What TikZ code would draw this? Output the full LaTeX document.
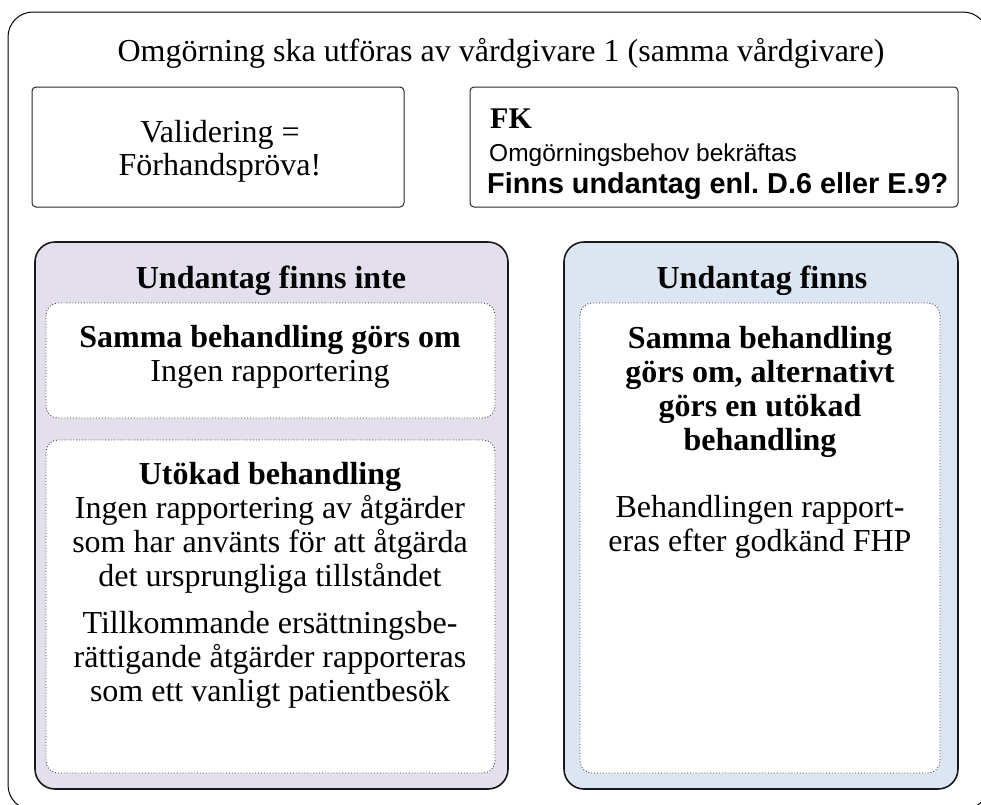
\documentclass[tikz,border=0pt]{standalone}
\usepackage{fontspec}
\setmainfont{Liberation Serif}
\newfontfamily\arialfont{Liberation Sans}
\frenchspacing
\definecolor{lav}{HTML}{E4DFEC}
\definecolor{lblue}{HTML}{DCE6F2}
\tikzset{
  frame/.style={draw=black, line width=1pt, rounded corners=25pt},
  topbox/.style={draw=black!85, line width=1pt, rounded corners=4pt, fill=white},
  panel/.style={draw=black!90, line width=1.6pt, rounded corners=20pt},
  inner/.style={draw=black!75, line width=0.9pt, dotted, rounded corners=12pt, fill=white},
  txt/.style={anchor=base, inner sep=0pt, font=\fontsize{32}{34}\selectfont},
}
\begin{document}
\begin{tikzpicture}[x=1pt,y=-1pt]
\useasboundingbox (0,0) rectangle (981,804);
\draw[frame] (8,12) rectangle (988,810);
\node[txt] (title) at (501,61) {Omgörning ska utföras av vårdgivare 1 (samma vårdgivare)};
% top boxes
\draw[topbox] (32,87) rectangle (404,207);
\node[txt, font=\fontsize{32}{33.5}\selectfont] (valid) at (220,142)
  {\begin{tabular}[t]{@{}c@{}}Validering =\\Förhandspröva!\end{tabular}};
\draw[topbox] (470,87) rectangle (958,207);
\node[anchor=base west, inner sep=0pt, font=\fontsize{30}{34}\selectfont\bfseries] (fk) at (490,128) {FK};
\node[anchor=base west, inner sep=0pt, font=\arialfont\fontsize{24.5}{28}\selectfont] (fk2) at (489,161) {Omgörningsbehov bekräftas};
\node[anchor=base west, inner sep=0pt, font=\arialfont\fontsize{28.8}{32}\selectfont\bfseries] (fk3) at (487,193) {Finns undantag enl. D.6 eller E.9?};
% left panel
\draw[panel, fill=lav] (35,242) rectangle (508,789);
\node[txt, font=\fontsize{32}{34}\selectfont\bfseries] (lhead) at (271,288) {Undantag finns inte};
\draw[inner] (46,303) rectangle (495,418);
\node[txt] (l1) at (270,347)
  {\begin{tabular}[t]{@{}c@{}}\bfseries Samma behandling görs om\\Ingen rapportering\end{tabular}};
\draw[inner] (46,440) rectangle (495,773);
\node[txt] (l2) at (270,484)
  {\begin{tabular}[t]{@{}c@{}}\bfseries Utökad behandling\\Ingen rapportering av åtgärder\\som har använts för att åtgärda\\det ursprungliga tillståndet\\[13pt]Tillkommande ersättningsbe-\\rättigande åtgärder rapporteras\\som ett vanligt patientbesök\end{tabular}};
% right panel
\draw[panel, fill=lblue] (564,242) rectangle (958,789);
\node[txt, font=\fontsize{32}{34}\selectfont\bfseries] (rhead) at (762,288) {Undantag finns};
\draw[inner] (580,303) rectangle (940,773);
\node[txt] (r1) at (760,348)
  {\begin{tabular}[t]{@{}c@{}}\bfseries Samma behandling\\\bfseries görs om, alternativt\\\bfseries görs en utökad\\\bfseries behandling\\[33pt]Behandlingen rapport-\\eras efter godkänd FHP\end{tabular}};
\end{tikzpicture}
\end{document}
